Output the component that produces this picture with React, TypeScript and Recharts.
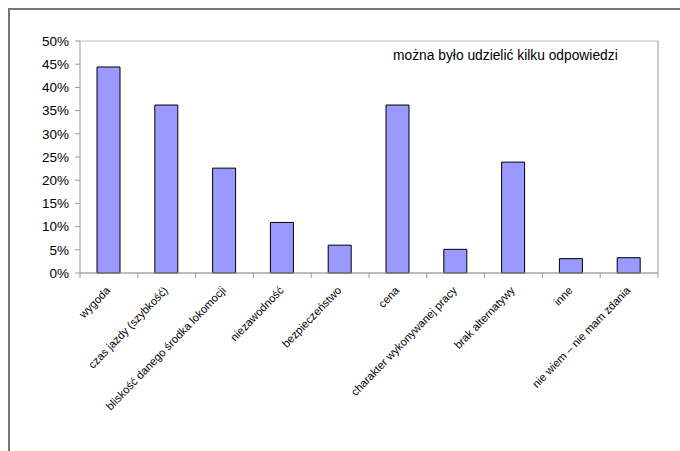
import { Bar, BarChart, CartesianGrid, XAxis, YAxis } from 'recharts';

const categories = [
  'wygoda',
  'czas jazdy (szybkość)',
  'bliskość danego środka lokomocji',
  'niezawodność',
  'bezpieczeństwo',
  'cena',
  'charakter wykonywanej pracy',
  'brak alternatywy',
  'inne',
  'nie wiem – nie mam zdania',
];
const shares = [44.4, 36.2, 22.6, 10.9, 6.0, 36.2, 5.1, 23.9, 3.1, 3.3];
const yTicks = [0, 5, 10, 15, 20, 25, 30, 35, 40, 45, 50];
const note = 'można było udzielić kilku odpowiedzi';

const data = categories.map((name, i) => ({ name, value: shares[i] }));

const FONT = '"Liberation Sans", Arial, sans-serif';
const BAND = 57.8;

function CategoryTick(props: any) {
  const { x, y, payload, index } = props;
  const last = index === categories.length - 1;
  const tx = x + 2;
  const ty = y + 10;
  return (
    <g>
      <line x1={x - BAND / 2} x2={x - BAND / 2} y1={y - 8} y2={y - 3} stroke="#999" />
      {last && <line x1={x + BAND / 2} x2={x + BAND / 2} y1={y - 8} y2={y - 3} stroke="#999" />}
      <text
        x={tx}
        y={ty}
        transform={`rotate(-46, ${tx}, ${ty})`}
        textAnchor="end"
        fontSize={11.2}
        fontFamily={FONT}
        fill="#000"
      >
        {payload.value}
      </text>
    </g>
  );
}

export default function App() {
  return (
    <div style={{ position: 'absolute', left: 0, top: 0, width: 680, height: 451, overflow: 'hidden', background: '#fff' }}>
      <div
        style={{
          position: 'absolute',
          left: 8,
          top: 8,
          width: 720,
          height: 500,
          borderLeft: '2px solid #777',
          borderTop: '2px solid #777',
        }}
      />
      <div style={{ position: 'absolute', left: 0, top: 0 }}>
        <BarChart width={680} height={451} data={data} margin={{ top: 41, right: 0, bottom: 78, left: 0 }}>
          <CartesianGrid vertical={false} stroke="#c0c0c0" />
          <XAxis
            dataKey="name"
            interval={0}
            height={100}
            tickLine={false}
            axisLine={{ stroke: '#999' }}
            tick={<CategoryTick />}
          />
          <YAxis
            yAxisId="left"
            width={80}
            domain={[0, 50]}
            ticks={yTicks}
            interval={0}
            tickFormatter={(v: number) => `${v}%`}
            tick={{ fontSize: 13.5, fontFamily: FONT, fill: '#000' }}
            tickSize={5}
            tickMargin={6}
            axisLine={{ stroke: '#999' }}
            tickLine={{ stroke: '#999' }}
          />
          <YAxis
            yAxisId="right"
            orientation="right"
            width={22}
            domain={[0, 50]}
            tick={false}
            tickLine={false}
            axisLine={{ stroke: '#999' }}
          />
          <Bar
            yAxisId="left"
            dataKey="value"
            fill="#9999ff"
            stroke="#000"
            strokeWidth={1}
            barSize={23}
            isAnimationActive={false}
          />
        </BarChart>
      </div>
      <div
        style={{
          position: 'absolute',
          left: 393,
          top: 48,
          fontSize: 13.8,
          fontFamily: FONT,
          color: '#000',
          whiteSpace: 'nowrap',
        }}
      >
        {note}
      </div>
    </div>
  );
}
